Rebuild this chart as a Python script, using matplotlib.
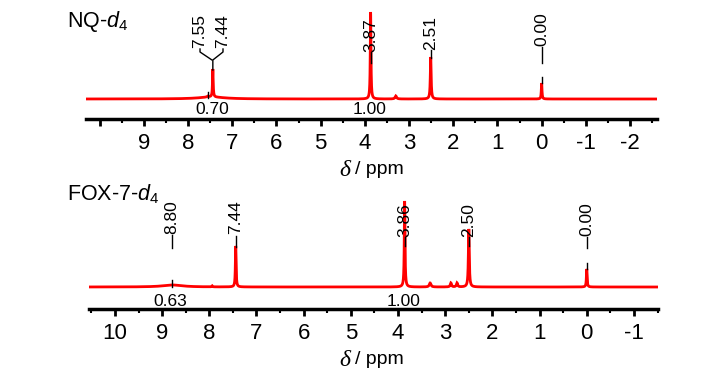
import numpy as np
import matplotlib
matplotlib.use('Agg')
import matplotlib.pyplot as plt
from matplotlib.ticker import MultipleLocator, FixedLocator, FixedFormatter

plt.rcParams['font.family'] = ['Liberation Sans', 'DejaVu Sans']
plt.rcParams['mathtext.fontset'] = 'custom'
plt.rcParams['mathtext.rm'] = 'Liberation Sans'
plt.rcParams['mathtext.it'] = 'Liberation Sans:italic'

# ---------------- data ----------------
# NQ-d4 spectrum: peak positions (ppm), heights (px above baseline), half widths (ppm)
nq_ppm = [7.55, 7.44, 7.47, 3.87, 3.30, 2.51, 0.00]
nq_height = [1.0, 28.0, 2.0, 87.0, 3.0, 42.0, 16.0]
nq_hwhm = [0.02, 0.009, 0.35, 0.009, 0.02, 0.011, 0.009]
nq_labels = ['7.55', '7.44', '3.87', '2.51', '0.00']
nq_int_ppm = [7.44, 3.87]
nq_int_text = ['0.70', '1.00']
nq_ticks = [10, 9, 8, 7, 6, 5, 4, 3, 2, 1, 0, -1, -2]
nq_ticklabels = ['', '9', '8', '7', '6', '5', '4', '3', '2', '1', '0', '-1', '-2']

# FOX-7-d4 spectrum
fox_ppm = [8.78, 7.94, 7.44, 3.86, 3.32, 2.88, 2.75, 2.50, 0.00]
fox_height = [2.0, 1.0, 41.0, 86.0, 4.0, 4.0, 4.0, 58.0, 18.0]
fox_hwhm = [0.25, 0.01, 0.009, 0.009, 0.02, 0.015, 0.015, 0.011, 0.009]
fox_labels = ['8.80', '7.44', '3.86', '2.50', '0.00']
fox_int_ppm = [8.80, 3.86]
fox_int_text = ['0.63', '1.00']
fox_ticks = [10, 9, 8, 7, 6, 5, 4, 3, 2, 1, 0, -1]
fox_ticklabels = ['10', '9', '8', '7', '6', '5', '4', '3', '2', '1', '0', '-1']

# ---------------- layout ----------------
W, H = 728, 381
fig = plt.figure(figsize=(W / 100, H / 100), dpi=100)


def fx(x):
    return x / W


def fy(y):
    return 1 - y / H


RED = '#ff0000'


def spectrum(x, pos, hts, wds):
    y = np.zeros_like(x)
    for p, h, w in zip(pos, hts, wds):
        y += h * w * w / ((x - p) ** 2 + w * w)
    return y


def make_panel(left, right, spine_y, top_y, base_y, xlim, ppm, hts, wds,
               ticks, ticklabels):
    ax = fig.add_axes([fx(left), fy(spine_y), fx(right) - fx(left),
                       fy(top_y) - fy(spine_y)])
    x = np.linspace(xlim[0], xlim[1], 60000)
    y = spectrum(x, ppm, hts, wds)
    ax.plot(x, y, color=RED, lw=2.0, solid_joinstyle='miter')
    ax.set_xlim(*xlim)
    ax.set_ylim(base_y - spine_y, base_y - top_y)
    for s in ['top', 'left', 'right']:
        ax.spines[s].set_visible(False)
    ax.spines['bottom'].set_linewidth(2.5)
    ax.set_yticks([])
    ax.xaxis.set_major_locator(FixedLocator(ticks))
    ax.xaxis.set_major_formatter(FixedFormatter(ticklabels))
    ax.xaxis.set_minor_locator(MultipleLocator(0.5))
    ax.tick_params(axis='x', which='major', direction='out', length=5,
                   width=2, labelsize=16, pad=5)
    ax.tick_params(axis='x', which='minor', direction='out', length=3,
                   width=1.5)
    ax.patch.set_visible(False)
    return ax


ax1 = make_panel(86, 657, 119, 0, 99, (10.31, -2.61), nq_ppm, nq_height,
                 nq_hwhm, nq_ticks, nq_ticklabels)
ax2 = make_panel(89, 658, 309, 190, 287, (10.55, -1.51), fox_ppm, fox_height,
                 fox_hwhm, fox_ticks, fox_ticklabels)


def draw_labels(ax, base_y, items):
    for text, tx, tb, pts, tick in items:
        ax.text(tx, base_y - tb, text, rotation=90, ha='center', va='bottom',
                fontsize=12.5, clip_on=False)
        xs = [p[0] for p in pts]
        ys = [base_y - p[1] for p in pts]
        ax.plot(xs, ys, color='black', lw=1.0, clip_on=False)
        if tick is not None:
            ax.plot([tick[0], tick[0]], [base_y - tick[1], base_y - tick[2]],
                    color='black', lw=1.0, clip_on=False)


# NQ peak labels (text, text x ppm, text bottom px, connector, tick)
nq_items = [
    (nq_labels[0], 7.73, 48, [(7.73, 49), (7.73, 52), (7.46, 60)], (7.55, 92, 98)),
    (nq_labels[1], 7.21, 48, [(7.21, 49), (7.21, 52), (7.44, 60), (7.44, 70)], None),
    (nq_labels[2], 3.87, 52, [(3.87, 52), (3.87, 63)], None),
    (nq_labels[3], 2.51, 50, [(2.51, 50), (2.51, 58)], None),
    (nq_labels[4], 0.00, 46, [(0.0, 47), (0.0, 63)], (0.0, 77, 83)),
]
draw_labels(ax1, 99, nq_items)

fox_items = [
    (fox_labels[0], 8.80, 234, [(8.80, 235), (8.80, 248)], (8.80, 280, 287)),
    (fox_labels[1], 7.44, 234, [(7.44, 236), (7.44, 247)], None),
    (fox_labels[2], 3.86, 237, [(3.86, 237), (3.86, 246)], None),
    (fox_labels[3], 2.50, 237, [(2.50, 237), (2.50, 246)], None),
    (fox_labels[4], 0.00, 236, [(0.0, 237), (0.0, 248)], (0.0, 263, 269)),
]
draw_labels(ax2, 287, fox_items)

# integrals
for p, t in zip(nq_int_ppm, nq_int_text):
    ax1.text(p + 0.02, 99 - 110, t, ha='center', va='center', fontsize=12.5)
for p, t in zip(fox_int_ppm, fox_int_text):
    ax2.text(p + 0.02, 287 - 301, t, ha='center', va='center', fontsize=12.5)

# titles
fig.text(fx(67), fy(22), r'NQ-$\mathit{d}_{4}$', fontsize=15.5, ha='left',
         va='center')
fig.text(fx(67), fy(194), r'FOX-7-$\mathit{d}_{4}$', fontsize=15.5, ha='left',
         va='center')

# axis labels
for yc in (170, 360):
    fig.text(fx(350), fy(yc), 'δ', family='Liberation Serif', style='italic',
             fontsize=17, ha='right', va='center')
    fig.text(fx(355), fy(yc), '/ ppm', fontsize=14, ha='left', va='center')

fig.savefig('out.png', dpi=100)
